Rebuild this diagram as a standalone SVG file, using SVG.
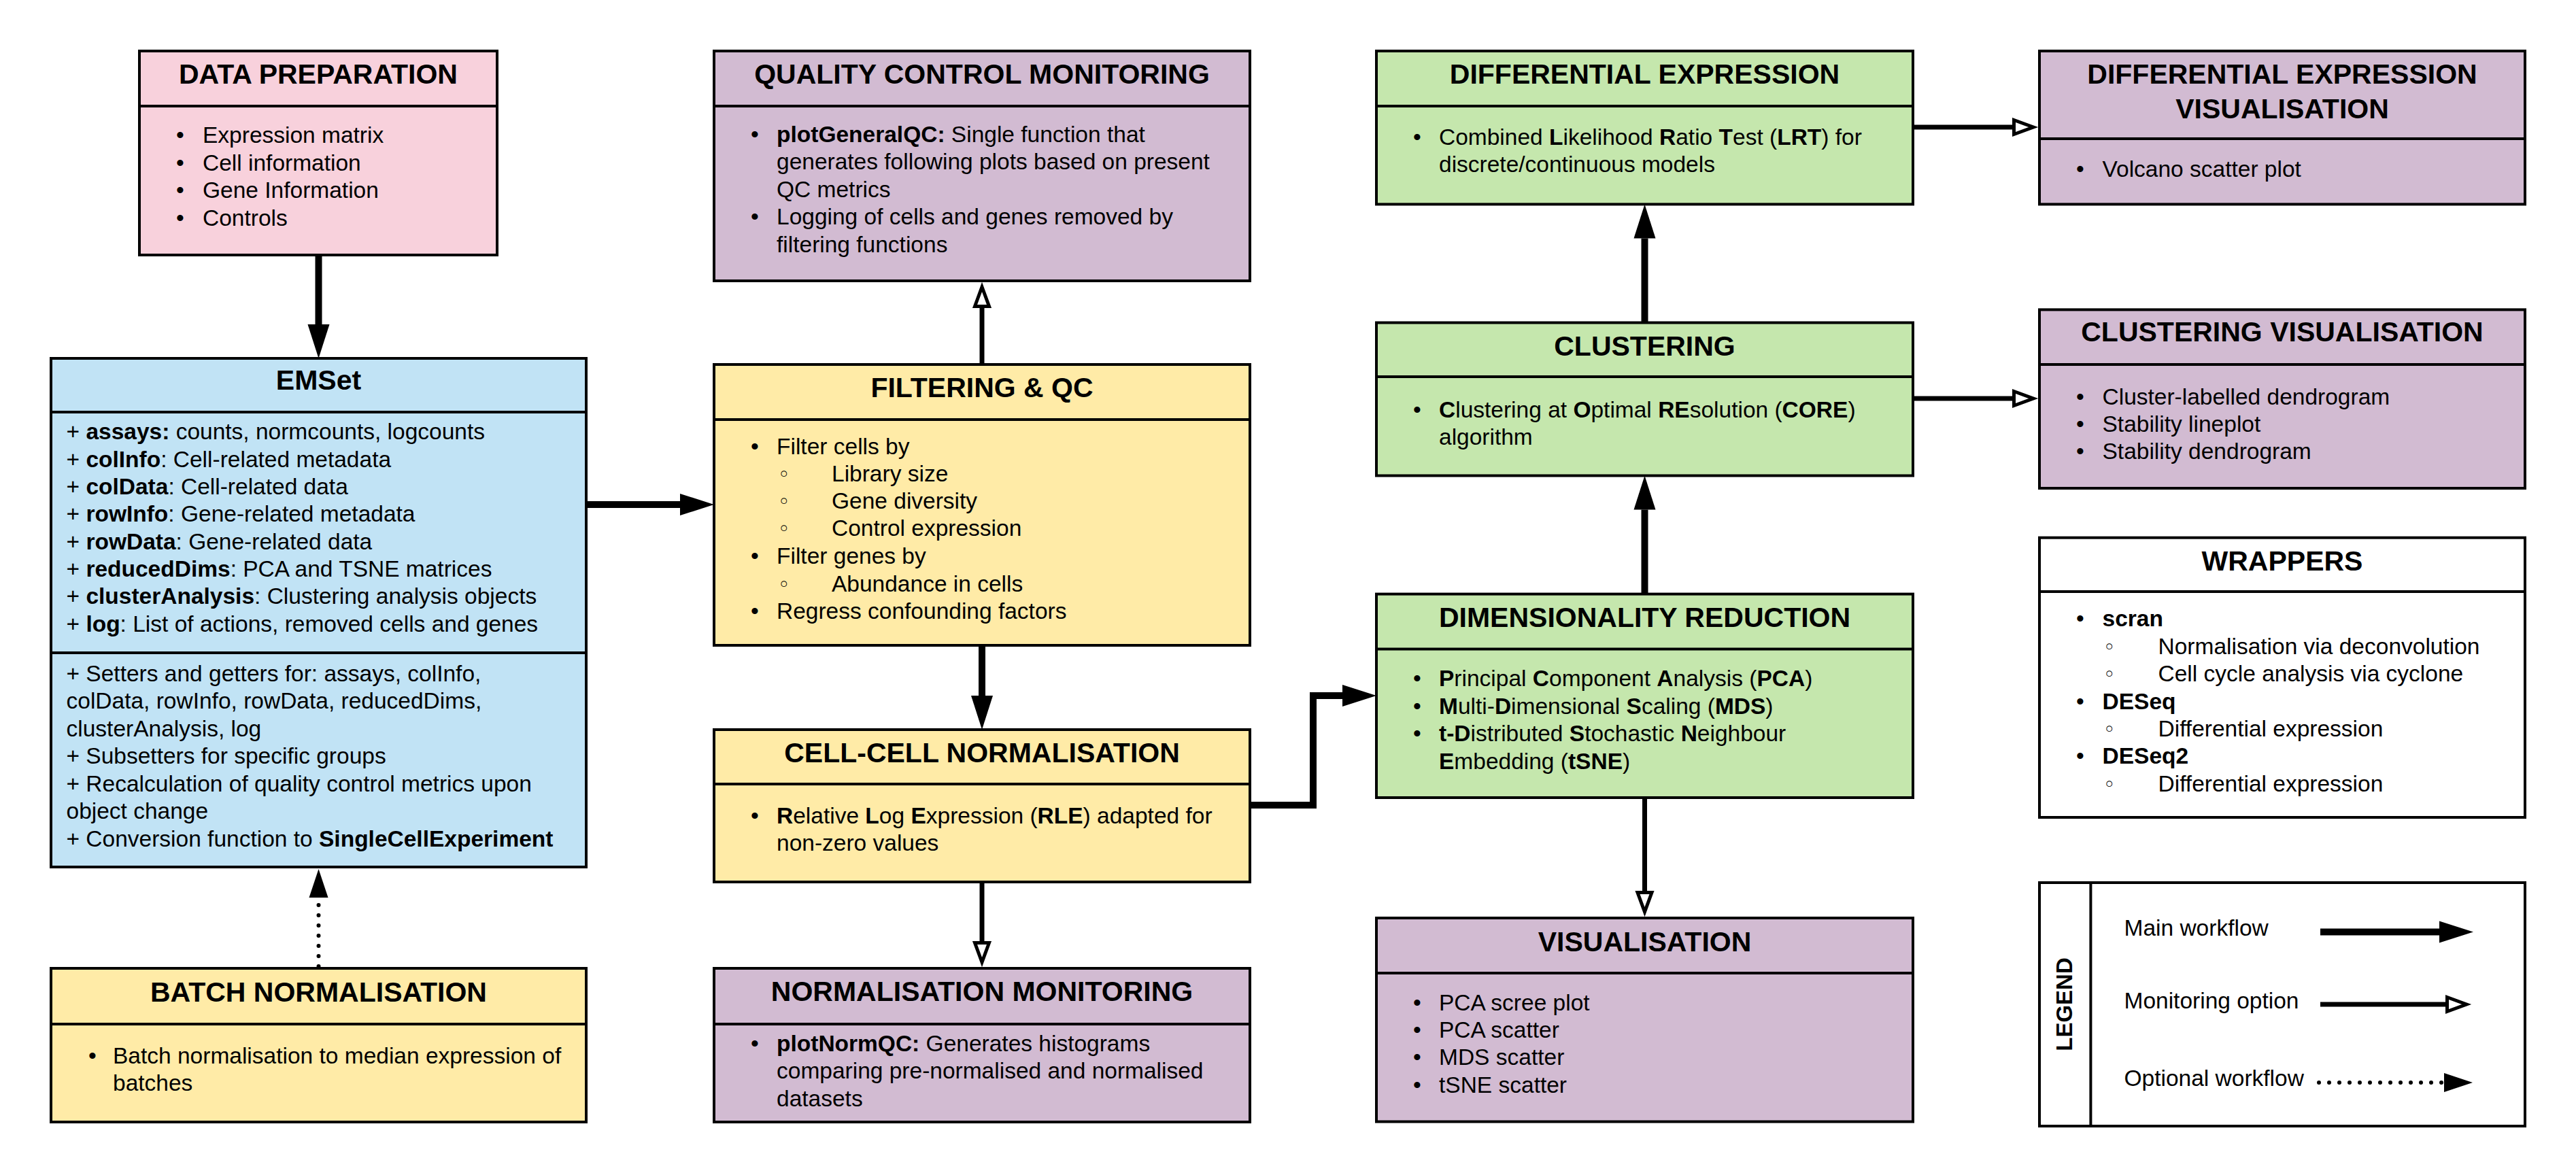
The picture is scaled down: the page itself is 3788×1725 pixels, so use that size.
<svg xmlns="http://www.w3.org/2000/svg" width="3788" height="1725" viewBox="0 0 3788 1725">
<defs>
<style>
.box{stroke:#000;stroke-width:4}
.dv{stroke:#000;stroke-width:4;fill:none}
.ttl{font-family:"Liberation Sans",Arial,sans-serif;font-weight:bold;font-size:41px;text-anchor:middle;fill:#000}
.txt{font-family:"Liberation Sans",Arial,sans-serif;font-size:33.5px;fill:#000}
.sb{font-family:"DejaVu Sans","Liberation Sans",sans-serif;font-size:30px;fill:#000}
.k{font-weight:bold}
.main{fill:none;stroke:#000;stroke-width:10;stroke-linejoin:miter}
.mon{fill:none;stroke:#000;stroke-width:7}
.opt{fill:none;stroke:#000;stroke-width:6;stroke-dasharray:0 15;stroke-linecap:round}
.pink{fill:#F8D1DC}.blue{fill:#C1E3F5}.yel{fill:#FFEBA7}.pur{fill:#D2BBD2}.grn{fill:#C5E7AD}.wht{fill:#FFFFFF}
</style>
<marker id="hMain" markerUnits="userSpaceOnUse" markerWidth="50" markerHeight="32" refX="0" refY="16" orient="auto" overflow="visible">
<path d="M0,0 L50,16 L0,32 Z" fill="#000"/>
</marker>
<marker id="hMon" markerUnits="userSpaceOnUse" markerWidth="40" markerHeight="26" refX="0" refY="13" orient="auto" overflow="visible">
<path d="M2.5,2.5 L31,13 L2.5,23.5 Z" fill="#FFF" stroke="#000" stroke-width="5"/>
</marker>
<marker id="hOpt" markerUnits="userSpaceOnUse" markerWidth="42" markerHeight="28" refX="0" refY="14" orient="auto" overflow="visible">
<path d="M0,0 L42,14 L0,28 Z" fill="#000"/>
</marker>
</defs>
<rect width="3788" height="1725" fill="#FFFFFF"/>

<g id="connectors">
<path class="main" d="M468.5,375 V477" marker-end="url(#hMain)"/>
<path class="main" d="M862,742 H1000" marker-end="url(#hMain)"/>
<path class="mon" d="M1444,536 V453" marker-end="url(#hMon)"/>
<path class="main" d="M1444,949 V1023" marker-end="url(#hMain)"/>
<path class="mon" d="M1444,1297 V1384" marker-end="url(#hMon)"/>
<path class="main" d="M1838,1184 H1931 V1023 H1974" marker-end="url(#hMain)"/>
<path class="main" d="M2418.5,873.6 V749.5" marker-end="url(#hMain)"/>
<path class="main" d="M2418.5,474.5 V350.4" marker-end="url(#hMain)"/>
<path class="mon" d="M2418.5,1173 V1310" marker-end="url(#hMon)"/>
<path class="mon" d="M2813,187 H2959" marker-end="url(#hMon)"/>
<path class="mon" d="M2813,586 H2959" marker-end="url(#hMon)"/>
<path class="opt" d="M468.5,1421 V1320" marker-end="url(#hOpt)"/>
</g>

<g id="n-data-prep">
<rect class="box pink" x="205" y="75" width="526" height="300"/>
<line class="dv" x1="205" y1="156" x2="731" y2="156"/>
<text class="ttl" x="468" y="123">DATA PREPARATION</text>
<text class="txt" x="259" y="210">•</text><text class="txt" x="298" y="210">Expression matrix</text>
<text class="txt" x="259" y="250.5">•</text><text class="txt" x="298" y="250.5">Cell information</text>
<text class="txt" x="259" y="291">•</text><text class="txt" x="298" y="291">Gene Information</text>
<text class="txt" x="259" y="331.5">•</text><text class="txt" x="298" y="331.5">Controls</text>
</g>

<g id="n-emset">
<rect class="box blue" x="75" y="527" width="787" height="748"/>
<line class="dv" x1="75" y1="606" x2="862" y2="606"/>
<line class="dv" x1="75" y1="960" x2="862" y2="960"/>
<text class="ttl" x="468.5" y="573">EMSet</text>
<text class="txt" x="97.5" y="646">+ <tspan class="k">assays:</tspan> counts, normcounts, logcounts</text>
<text class="txt" x="97.5" y="686.5">+ <tspan class="k">colInfo</tspan>: Cell-related metadata</text>
<text class="txt" x="97.5" y="727">+ <tspan class="k">colData</tspan>: Cell-related data</text>
<text class="txt" x="97.5" y="767">+ <tspan class="k">rowInfo</tspan>: Gene-related metadata</text>
<text class="txt" x="97.5" y="807.5">+ <tspan class="k">rowData</tspan>: Gene-related data</text>
<text class="txt" x="97.5" y="848">+ <tspan class="k">reducedDims</tspan>: PCA and TSNE matrices</text>
<text class="txt" x="97.5" y="888">+ <tspan class="k">clusterAnalysis</tspan>: Clustering analysis objects</text>
<text class="txt" x="97.5" y="928.5">+ <tspan class="k">log</tspan>: List of actions, removed cells and genes</text>
<text class="txt" x="97.5" y="1002">+ Setters and getters for: assays, colInfo,</text>
<text class="txt" x="97.5" y="1042">colData, rowInfo, rowData, reducedDims,</text>
<text class="txt" x="97.5" y="1082.5">clusterAnalysis, log</text>
<text class="txt" x="97.5" y="1123">+ Subsetters for specific groups</text>
<text class="txt" x="97.5" y="1163.5">+ Recalculation of quality control metrics upon</text>
<text class="txt" x="97.5" y="1204">object change</text>
<text class="txt" x="97.5" y="1244.5">+ Conversion function to <tspan class="k">SingleCellExperiment</tspan></text>
</g>

<g id="n-batch">
<rect class="box yel" x="75" y="1424" width="787" height="226"/>
<line class="dv" x1="75" y1="1506" x2="862" y2="1506"/>
<text class="ttl" x="468.5" y="1473">BATCH NORMALISATION</text>
<text class="txt" x="130" y="1564">•</text><text class="txt" x="166" y="1564">Batch normalisation to median expression of</text>
<text class="txt" x="166" y="1604">batches</text>
</g>

<g id="n-qc-mon">
<rect class="box pur" x="1050" y="75" width="788" height="338"/>
<line class="dv" x1="1050" y1="156" x2="1838" y2="156"/>
<text class="ttl" x="1444" y="122.5">QUALITY CONTROL MONITORING</text>
<text class="txt" x="1104" y="208.5">•</text><text class="txt" x="1142" y="208.5"><tspan class="k">plotGeneralQC:</tspan> Single function that</text>
<text class="txt" x="1142" y="249">generates following plots based on present</text>
<text class="txt" x="1142" y="289.5">QC metrics</text>
<text class="txt" x="1104" y="330">•</text><text class="txt" x="1142" y="330">Logging of cells and genes removed by</text>
<text class="txt" x="1142" y="370.5">filtering functions</text>
</g>

<g id="n-filter">
<rect class="box yel" x="1050" y="536" width="788" height="413"/>
<line class="dv" x1="1050" y1="617" x2="1838" y2="617"/>
<text class="ttl" x="1444" y="584">FILTERING &amp; QC</text>
<text class="txt" x="1104" y="667.5">•</text><text class="txt" x="1142" y="667.5">Filter cells by</text>
<text class="sb" x="1144" y="707.5">◦</text><text class="txt" x="1223" y="707.5">Library size</text>
<text class="sb" x="1144" y="748">◦</text><text class="txt" x="1223" y="748">Gene diversity</text>
<text class="sb" x="1144" y="788">◦</text><text class="txt" x="1223" y="788">Control expression</text>
<text class="txt" x="1104" y="829">•</text><text class="txt" x="1142" y="829">Filter genes by</text>
<text class="sb" x="1144" y="869.5">◦</text><text class="txt" x="1223" y="869.5">Abundance in cells</text>
<text class="txt" x="1104" y="910">•</text><text class="txt" x="1142" y="910">Regress confounding factors</text>
</g>

<g id="n-cellnorm">
<rect class="box yel" x="1050" y="1073" width="788" height="224"/>
<line class="dv" x1="1050" y1="1153" x2="1838" y2="1153"/>
<text class="ttl" x="1444" y="1120.5">CELL-CELL NORMALISATION</text>
<text class="txt" x="1104" y="1210.5">•</text><text class="txt" x="1142" y="1210.5"><tspan class="k">R</tspan>elative <tspan class="k">L</tspan>og <tspan class="k">E</tspan>xpression (<tspan class="k">RLE</tspan>) adapted for</text>
<text class="txt" x="1142" y="1251">non-zero values</text>
</g>

<g id="n-norm-mon">
<rect class="box pur" x="1050" y="1424" width="788" height="226"/>
<line class="dv" x1="1050" y1="1506" x2="1838" y2="1506"/>
<text class="ttl" x="1444" y="1472">NORMALISATION MONITORING</text>
<text class="txt" x="1104" y="1546">•</text><text class="txt" x="1142" y="1546"><tspan class="k">plotNormQC:</tspan> Generates histograms</text>
<text class="txt" x="1142" y="1586">comparing pre-normalised and normalised</text>
<text class="txt" x="1142" y="1626.5">datasets</text>
</g>

<g id="n-diffexp">
<rect class="box grn" x="2024" y="75" width="789" height="225.4"/>
<line class="dv" x1="2024" y1="156" x2="2813" y2="156"/>
<text class="ttl" x="2418.5" y="122.5">DIFFERENTIAL EXPRESSION</text>
<text class="txt" x="2078" y="212.5">•</text><text class="txt" x="2116" y="212.5">Combined <tspan class="k">L</tspan>ikelihood <tspan class="k">R</tspan>atio <tspan class="k">T</tspan>est (<tspan class="k">LRT</tspan>) for</text>
<text class="txt" x="2116" y="252.5">discrete/continuous models</text>
</g>

<g id="n-clustering">
<rect class="box grn" x="2024" y="474.5" width="789" height="225"/>
<line class="dv" x1="2024" y1="554" x2="2813" y2="554"/>
<text class="ttl" x="2418.5" y="522.5">CLUSTERING</text>
<text class="txt" x="2078" y="614">•</text><text class="txt" x="2116" y="614"><tspan class="k">C</tspan>lustering at <tspan class="k">O</tspan>ptimal <tspan class="k">RE</tspan>solution (<tspan class="k">CORE</tspan>)</text>
<text class="txt" x="2116" y="654">algorithm</text>
</g>

<g id="n-dimred">
<rect class="box grn" x="2024" y="873.6" width="789" height="299.4"/>
<line class="dv" x1="2024" y1="954.4" x2="2813" y2="954.4"/>
<text class="ttl" x="2418.5" y="922">DIMENSIONALITY REDUCTION</text>
<text class="txt" x="2078" y="1009">•</text><text class="txt" x="2116" y="1009"><tspan class="k">P</tspan>rincipal <tspan class="k">C</tspan>omponent <tspan class="k">A</tspan>nalysis (<tspan class="k">PCA</tspan>)</text>
<text class="txt" x="2078" y="1049.5">•</text><text class="txt" x="2116" y="1049.5"><tspan class="k">M</tspan>ulti-<tspan class="k">D</tspan>imensional <tspan class="k">S</tspan>caling (<tspan class="k">MDS</tspan>)</text>
<text class="txt" x="2078" y="1090">•</text><text class="txt" x="2116" y="1090"><tspan class="k">t-D</tspan>istributed <tspan class="k">S</tspan>tochastic <tspan class="k">N</tspan>eighbour</text>
<text class="txt" x="2116" y="1130.5"><tspan class="k">E</tspan>mbedding (<tspan class="k">tSNE</tspan>)</text>
</g>

<g id="n-vis">
<rect class="box pur" x="2024" y="1350" width="789" height="299.5"/>
<line class="dv" x1="2024" y1="1431" x2="2813" y2="1431"/>
<text class="ttl" x="2418.5" y="1398.5">VISUALISATION</text>
<text class="txt" x="2078" y="1485.5">•</text><text class="txt" x="2116" y="1485.5">PCA scree plot</text>
<text class="txt" x="2078" y="1526">•</text><text class="txt" x="2116" y="1526">PCA scatter</text>
<text class="txt" x="2078" y="1566">•</text><text class="txt" x="2116" y="1566">MDS scatter</text>
<text class="txt" x="2078" y="1606.5">•</text><text class="txt" x="2116" y="1606.5">tSNE scatter</text>
</g>

<g id="n-devis">
<rect class="box pur" x="2999" y="75" width="714" height="225.4"/>
<line class="dv" x1="2999" y1="204" x2="3713" y2="204"/>
<text class="ttl" x="3356" y="123">DIFFERENTIAL EXPRESSION</text>
<text class="ttl" x="3356" y="173.5">VISUALISATION</text>
<text class="txt" x="3053" y="259.5">•</text><text class="txt" x="3091.5" y="259.5">Volcano scatter plot</text>
</g>

<g id="n-clusvis">
<rect class="box pur" x="2999" y="455.4" width="714" height="262.6"/>
<line class="dv" x1="2999" y1="536" x2="3713" y2="536"/>
<text class="ttl" x="3356" y="502">CLUSTERING VISUALISATION</text>
<text class="txt" x="3053" y="595">•</text><text class="txt" x="3091.5" y="595">Cluster-labelled dendrogram</text>
<text class="txt" x="3053" y="634.5">•</text><text class="txt" x="3091.5" y="634.5">Stability lineplot</text>
<text class="txt" x="3053" y="675">•</text><text class="txt" x="3091.5" y="675">Stability dendrogram</text>
</g>

<g id="n-wrappers">
<rect class="box wht" x="2999" y="790.7" width="714" height="411.3"/>
<line class="dv" x1="2999" y1="870" x2="3713" y2="870"/>
<text class="ttl" x="3356" y="838.5">WRAPPERS</text>
<text class="txt" x="3053" y="921">•</text><text class="txt k" x="3091.5" y="921">scran</text>
<text class="sb" x="3093" y="961.5">◦</text><text class="txt" x="3173.5" y="961.5">Normalisation via deconvolution</text>
<text class="sb" x="3093" y="1002">◦</text><text class="txt" x="3173.5" y="1002">Cell cycle analysis via cyclone</text>
<text class="txt" x="3053" y="1042.5">•</text><text class="txt k" x="3091.5" y="1042.5">DESeq</text>
<text class="sb" x="3093" y="1083">◦</text><text class="txt" x="3173.5" y="1083">Differential expression</text>
<text class="txt" x="3053" y="1123">•</text><text class="txt k" x="3091.5" y="1123">DESeq2</text>
<text class="sb" x="3093" y="1163.5">◦</text><text class="txt" x="3173.5" y="1163.5">Differential expression</text>
</g>

<g id="legend">
<rect class="box wht" x="2999" y="1298" width="714" height="358"/>
<line class="dv" x1="3074.4" y1="1298" x2="3074.4" y2="1656"/>
<text x="3047" y="1477" transform="rotate(-90 3047 1477)" text-anchor="middle" font-family="Liberation Sans, Arial, sans-serif" font-weight="bold" font-size="33">LEGEND</text>
<text class="txt" x="3123.5" y="1376" font-size="33">Main workflow</text>
<text class="txt" x="3123.5" y="1483" font-size="33">Monitoring option</text>
<text class="txt" x="3123.5" y="1596.5" font-size="33">Optional workflow</text>
<path class="main" d="M3412,1370.5 H3587" marker-end="url(#hMain)"/>
<path class="mon" d="M3412,1477 H3596" marker-end="url(#hMon)"/>
<path class="opt" d="M3410,1592 H3594" marker-end="url(#hOpt)"/>
</g>
</svg>
